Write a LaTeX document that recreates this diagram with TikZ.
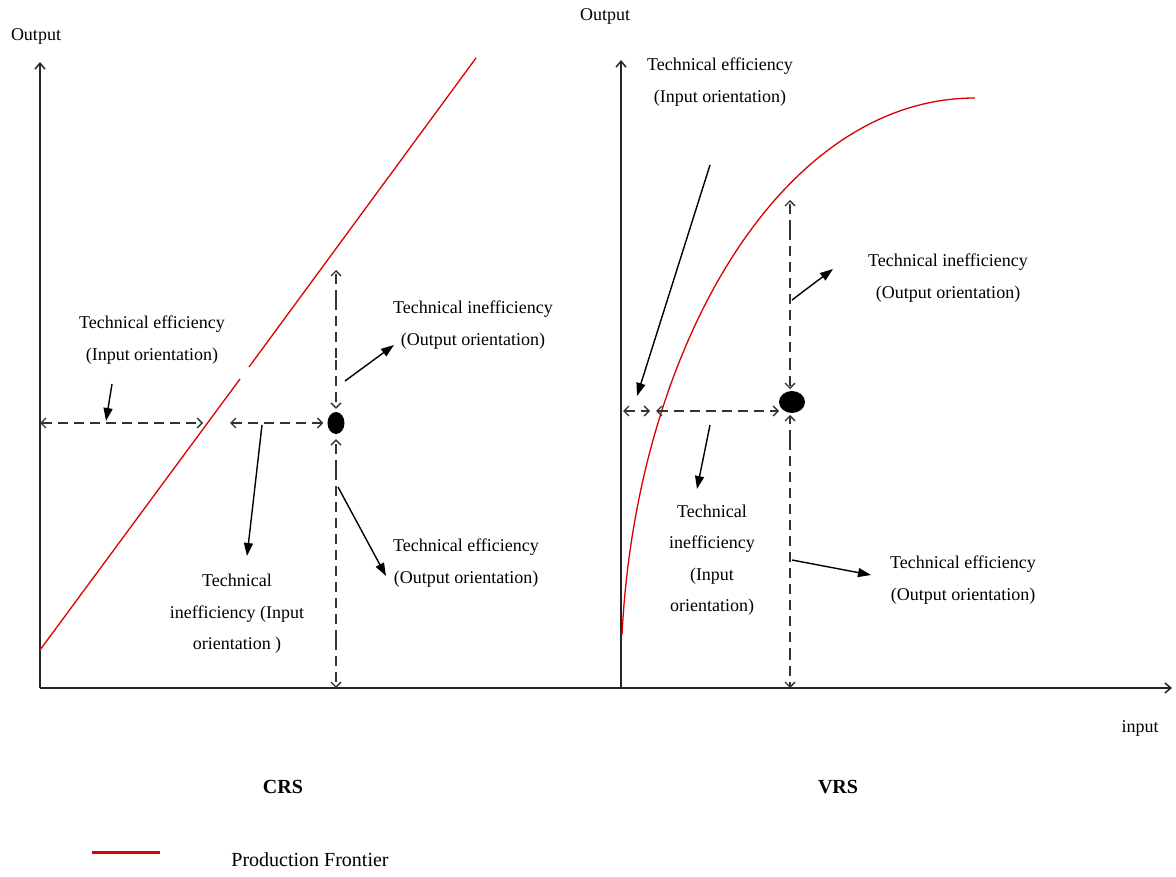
\documentclass[tikz,border=0pt]{standalone}
\usepackage{fontspec}
\setmainfont{Liberation Serif}
\usepackage{tikz}
\usetikzlibrary{arrows.meta}
\usetikzlibrary{shapes.geometric}
\colorlet{pfred}{red!85!black}
\tikzstyle{ax}=[line width=1.7pt,black!85,-{Straight Barb[length=6pt,width=10pt,line width=1.5pt]}]
\tikzstyle{dshhead}=[>/.tip={Straight Barb[length=5pt,width=10pt,line width=1.4pt]}]
\tikzstyle{dsh}=[line width=1.5pt,black!80,dash pattern=on 10pt off 6pt,dshhead,<->]
\tikzstyle{dshend}=[line width=1.5pt,black!80,dash pattern=on 10pt off 6pt,dshhead,->]
\tikzstyle{lbl}=[line width=1.4pt,-{Triangle[length=13pt,width=9pt]}]
\tikzstyle{pf}=[pfred,line width=1.3pt]
\tikzstyle{txt}=[align=center,inner sep=0pt,font=\fontsize{18}{31.5}\selectfont]
\tikzstyle{dot}=[fill=black,ellipse,inner sep=0pt]
\begin{document}
\begin{tikzpicture}[x=1pt,y=-1pt]
  \useasboundingbox (0,0) rectangle (1176,877);
  % axes
  \coordinate (o1) at (40,688);
  \coordinate (o2) at (621,688);
  \coordinate (y1) at (40,62);
  \coordinate (y2) at (621,60);
  \coordinate (xe) at (1172,688);
  \draw[ax] (o1) -- (xe);
  \draw[ax] (o1) -- (y1);
  \draw[ax] (o2) -- (y2);
  \node[txt,anchor=base] (out1) at (36,41) {Output};
  \node[txt,anchor=base] (out2) at (605,21) {Output};
  \node[txt,anchor=base] (inp) at (1140,732) {input};
  % CRS
  \coordinate (f1) at (40,650);
  \coordinate (f2) at (240,379);
  \coordinate (f3) at (249,367);
  \coordinate (f4) at (476,58);
  \draw[pf] (f1) -- (f2) (f3) -- (f4);
  \node[dot,minimum width=17pt,minimum height=22pt] (c) at (336,423) {};
  \coordinate (ct) at (336,270);
  \coordinate (cb) at (336,688);
  \draw[dshend] (336,300) -- (ct);
  \draw[dshend,-] (336,300) -- (336,360);
  \draw[dshend,shorten >=3pt] (336,360) -- (c.north);
  \draw[dshend,shorten >=5pt] (336,470) -- (c.south);
  \draw[dshend,-] (336,470) -- (336,640);
  \draw[dshend] (336,640) -- (cb);
  \draw[dsh] (40,423) -- (203,423);
  \draw[dsh,shorten >=4pt] (230,423) -- (c.west);
  \node[txt] (te1) at (152,340) {Technical efficiency\\(Input orientation)};
  \node[txt] (ti1) at (237,614) {Technical\\inefficiency (Input\\orientation )};
  \node[txt] (to1) at (473,325) {Technical inefficiency\\(Output orientation)};
  \node[txt] (eo1) at (466,563) {Technical efficiency\\(Output orientation)};
  \draw[lbl] (112,384) -- (106,421);
  \draw[lbl] (262,425) -- (247,556);
  \draw[lbl] (345,381) -- (394,345);
  \draw[lbl] (338,487) -- (386,576);
  % VRS
  \coordinate (g1) at (622,635);
  \coordinate (g2) at (975,98);
  \draw[pf] (g1) .. controls (636,350) and (780,98) .. (g2);
  \node[dot,minimum width=26pt,minimum height=22pt] (v) at (792,402) {};
  \coordinate (vt) at (790,200);
  \coordinate (vb) at (790,688);
  \draw[dshend] (790,230) -- (vt);
  \draw[dshend,-] (790,230) -- (790,360);
  \draw[dshend] (790,360) -- (790,389);
  \draw[dshend] (790,440) -- (790,415);
  \draw[dshend,-] (790,440) -- (790,650);
  \draw[dshend] (790,650) -- (vb);
  \draw[dsh] (623,411) -- (650,411);
  \draw[dsh] (656,411) -- (779,411);
  \node[txt] (te2) at (720,82) {Technical efficiency\\(Input orientation)};
  \node[txt] (ti2) at (712,560) {Technical\\inefficiency\\(Input\\orientation)};
  \node[txt] (to2) at (948,278) {Technical inefficiency\\(Output orientation)};
  \node[txt] (eo2) at (963,580) {Technical efficiency\\(Output orientation)};
  \draw[lbl] (710,165) -- (637,396);
  \draw[lbl] (710,425) -- (697,489);
  \draw[lbl] (792,300) -- (833,269);
  \draw[lbl] (792,560) -- (871,575);
  % titles and legend
  \node[txt,font=\fontsize{20}{24}\selectfont\bfseries] (crs) at (283,787) {CRS};
  \node[txt,font=\fontsize{20}{24}\selectfont\bfseries] (vrs) at (838,787) {VRS};
  \coordinate (l1) at (92,852);
  \coordinate (l2) at (160,852);
  \draw[pf,line width=3pt] (l1) -- (l2);
  \node[txt,font=\fontsize{20}{24}\selectfont] (leg) at (310,860) {Production Frontier};
\end{tikzpicture}
\end{document}
